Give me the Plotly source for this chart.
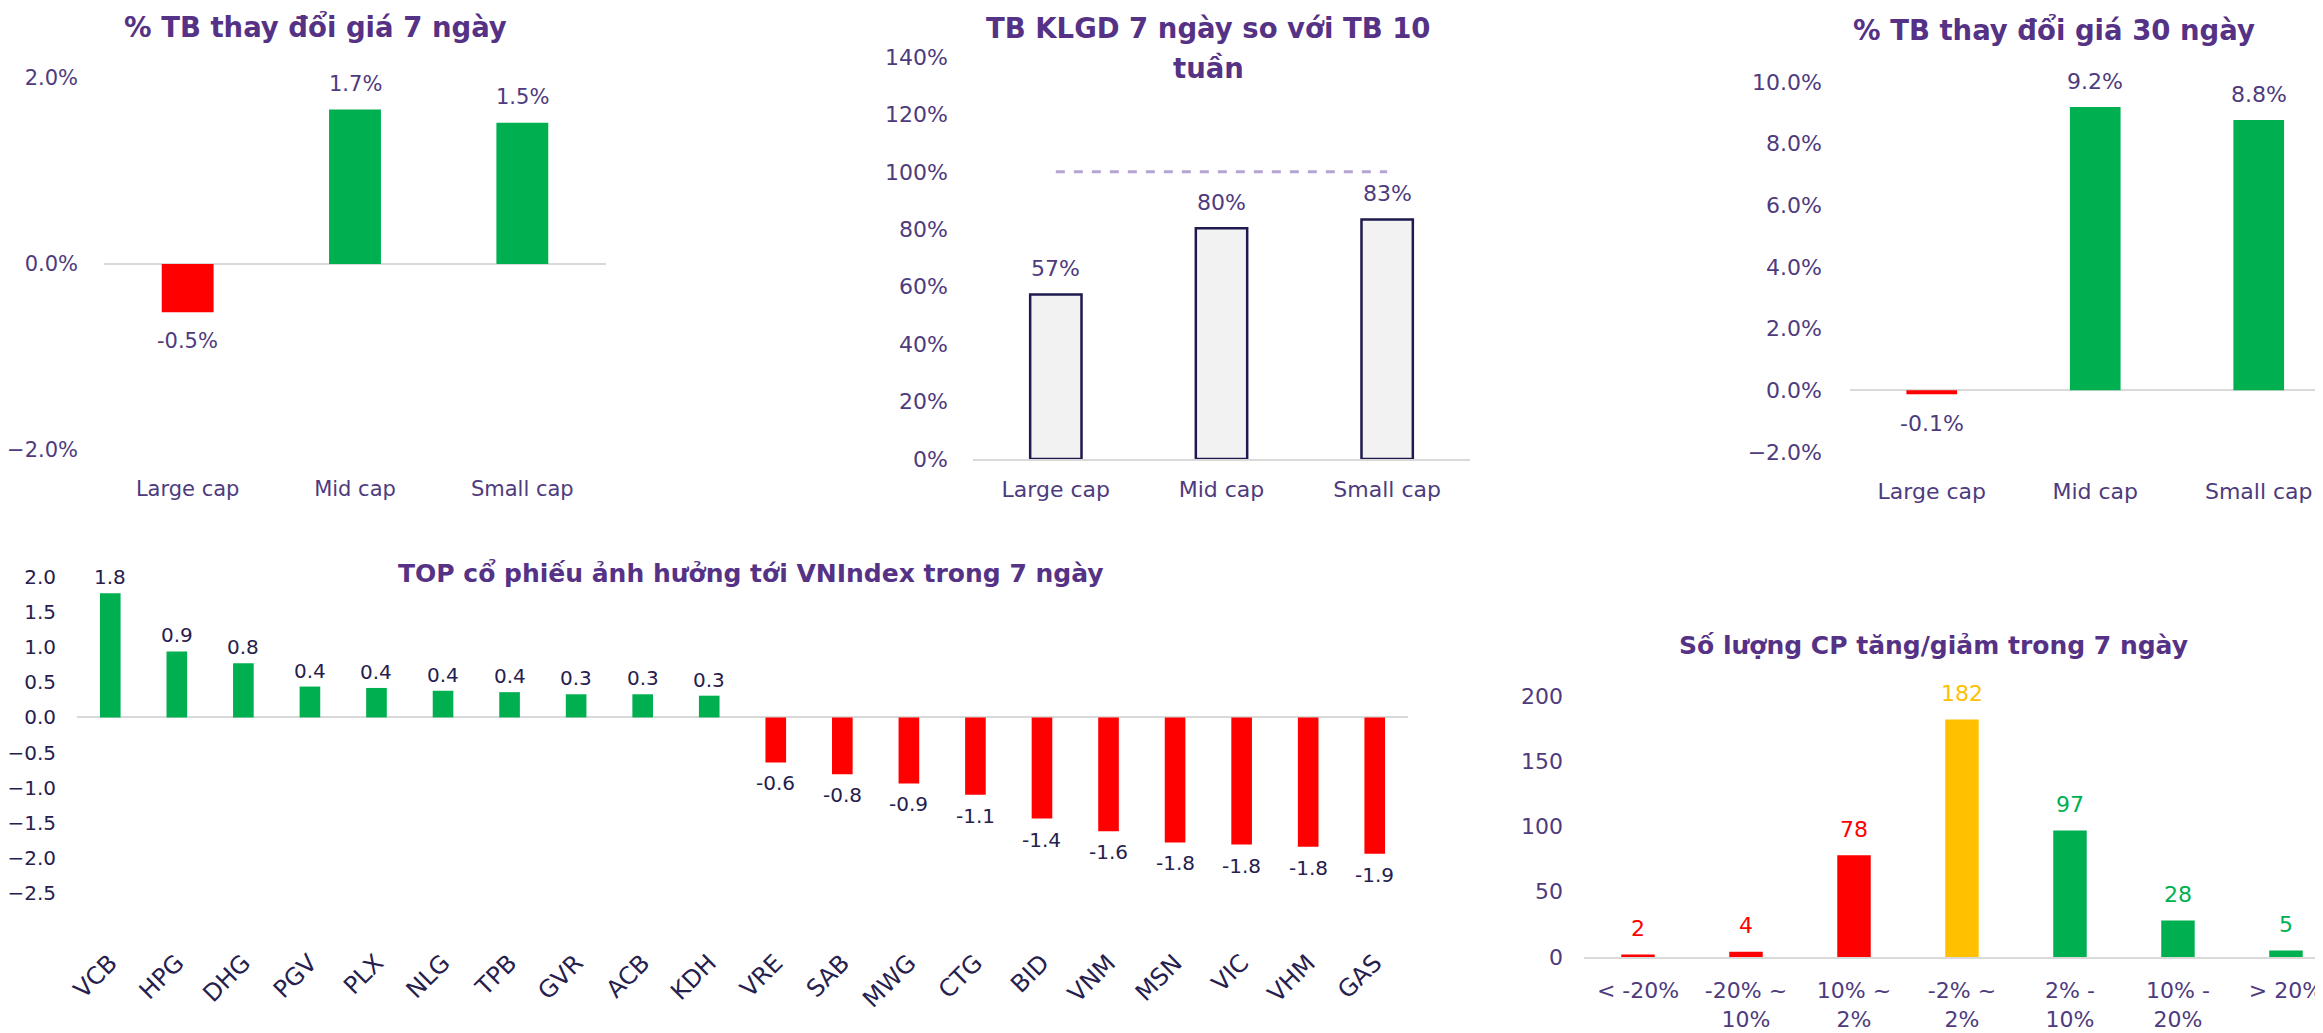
import plotly.graph_objects as go

# ---------------- data ----------------
caps = ["Large cap", "Mid cap", "Small cap"]
chg_7d = [-0.0052, 0.0166, 0.0152]          # % TB thay đổi giá 7 ngày
vol_ratio = [0.573, 0.804, 0.834]            # TB KLGD 7 ngày so với TB 10 tuần
ref_level = [1.0, 1.0, 1.0]                  # 100% reference
chg_30d = [-0.0013, 0.0919, 0.0877]          # % TB thay đổi giá 30 ngày

tickers = ["VCB", "HPG", "DHG", "PGV", "PLX", "NLG", "TPB", "GVR", "ACB", "KDH",
           "VRE", "SAB", "MWG", "CTG", "BID", "VNM", "MSN", "VIC", "VHM", "GAS"]
impact = [1.77, 0.94, 0.77, 0.44, 0.42, 0.38, 0.36, 0.33, 0.33, 0.31,
          -0.64, -0.81, -0.94, -1.10, -1.44, -1.62, -1.78, -1.81, -1.84, -1.94]

bins = ["< -20%", "-20% ~<br>10%", "10% ~<br>2%", "-2% ~<br>2%",
        "2% -<br>10%", "10% -<br>20%", "> 20%"]
counts = [2, 4, 78, 182, 97, 28, 5]

# ---------------- style ----------------
W, H = 2323, 1033
OFF = 8  # page body margin offset
FONT = "DejaVu Sans"
GREEN = "#00B050"
RED = "#FF0000"
YELLOW = "#FFC000"
PURPLE_T = "#553285"
PURPLE = "#4E3B7D"
NAVY = "#25204D"
AXIS_GRAY = "#D9D9D9"
bin_colors = [RED, RED, RED, YELLOW, GREEN, GREEN, GREEN]


def fx(px):
    return (px - OFF) / W


def fy(py):
    return 1 - (py - OFF) / H


def sign_colors(vals):
    return [GREEN if v >= 0 else RED for v in vals]


fig = go.Figure()

# Chart 1
fig.add_trace(go.Bar(x=caps, y=chg_7d, marker_color=sign_colors(chg_7d), width=0.31,
                     xaxis="x", yaxis="y", hoverinfo="skip"))
# Chart 2
fig.add_trace(go.Bar(x=caps, y=vol_ratio, marker=dict(color="#F2F2F2", line=dict(color="#1E1A4D", width=2.5)),
                     width=0.31, xaxis="x2", yaxis="y2", hoverinfo="skip"))
fig.add_trace(go.Scatter(x=caps, y=ref_level, mode="lines",
                         line=dict(color="#B4A5D5", width=3, dash="dash"),
                         xaxis="x2", yaxis="y2", hoverinfo="skip"))
# Chart 3
fig.add_trace(go.Bar(x=caps, y=chg_30d, marker_color=sign_colors(chg_30d), width=0.31,
                     xaxis="x3", yaxis="y3", hoverinfo="skip"))
# Chart 4
fig.add_trace(go.Bar(x=tickers, y=impact, marker_color=sign_colors(impact), width=0.31,
                     xaxis="x4", yaxis="y4", hoverinfo="skip"))
# Chart 5
fig.add_trace(go.Bar(x=bins, y=counts, marker_color=bin_colors, width=0.31,
                     xaxis="x5", yaxis="y5", hoverinfo="skip"))

base_x = dict(showgrid=False, zeroline=False, ticks="", type="category", automargin=False)
base_y = dict(showgrid=False, ticks="", automargin=False)

layout = dict(
    template="none",
    width=W, height=H, margin=dict(l=0, r=0, t=0, b=0, pad=0), autosize=False,
    paper_bgcolor="white", plot_bgcolor="white", showlegend=False,
    font=dict(family=FONT, color=PURPLE),
    # chart 1
    xaxis=dict(base_x, domain=[fx(104), fx(606)], anchor="y", range=[-0.5, 2.5],
               tickfont=dict(size=21, color=PURPLE), ticklabelstandoff=24),
    yaxis=dict(base_y, domain=[fy(450), fy(78)], anchor="x", range=[-0.02, 0.02], dtick=0.02,
               tickformat=".1%", zeroline=True, zerolinecolor=AXIS_GRAY, zerolinewidth=2,
               tickfont=dict(size=21, color=PURPLE), ticklabelstandoff=25),
    # chart 2
    xaxis2=dict(base_x, domain=[fx(973), fx(1470)], anchor="y2", range=[-0.5, 2.5],
                showline=True, linecolor=AXIS_GRAY, linewidth=2,
                tickfont=dict(size=22, color=PURPLE), ticklabelstandoff=10),
    yaxis2=dict(base_y, domain=[fy(459), fy(57)], anchor="x2", range=[0, 1.4], dtick=0.2,
                tickformat=".0%", zeroline=False, tickfont=dict(size=22, color=PURPLE),
                ticklabelstandoff=24),
    # chart 3
    xaxis3=dict(base_x, domain=[fx(1850), 1.0], anchor="y3", range=[-0.5, 2.442],
                tickfont=dict(size=22, color=PURPLE), ticklabelstandoff=24),
    yaxis3=dict(base_y, domain=[fy(452), fy(82)], anchor="x3", range=[-0.02, 0.10], dtick=0.02,
                tickformat=".1%", zeroline=True, zerolinecolor=AXIS_GRAY, zerolinewidth=2,
                tickfont=dict(size=22, color=PURPLE), ticklabelstandoff=27),
    # chart 4
    xaxis4=dict(base_x, domain=[fx(77), fx(1408)], anchor="y4", range=[-0.5, 19.5],
                tickangle=-45, tickfont=dict(size=24, color=NAVY), ticklabelstandoff=50),
    yaxis4=dict(base_y, domain=[fy(893), fy(577)], anchor="x4", range=[-2.5, 2.0], dtick=0.5,
                tickformat=".1f", zeroline=True, zerolinecolor=AXIS_GRAY, zerolinewidth=2,
                tickfont=dict(size=20, color=NAVY), ticklabelstandoff=20),
    # chart 5
    xaxis5=dict(base_x, domain=[fx(1584), 1.0], anchor="y5", range=[-0.5, 6.417],
                showline=True, linecolor=AXIS_GRAY, linewidth=2,
                tickfont=dict(size=22, color=PURPLE), ticklabelstandoff=13),
    yaxis5=dict(base_y, domain=[fy(957), fy(696)], anchor="x5", range=[0, 200], dtick=50,
                zeroline=False, tickfont=dict(size=22, color=PURPLE), ticklabelstandoff=20),
)
fig.update_layout(**layout)

annotations = []


def title(text, x, y, size):
    annotations.append(dict(text="<b>%s</b>" % text, x=fx(x), y=fy(y), xref="paper", yref="paper",
                            xanchor="center", yanchor="middle", showarrow=False,
                            font=dict(family=FONT, size=size, color=PURPLE_T)))


title("% TB thay đổi giá 7 ngày", 315, 27, 27.5)
title("TB KLGD 7 ngày so với TB 10", 1208, 28, 27.5)
title("tuần", 1208, 68, 27.5)
title("% TB thay đổi giá 30 ngày", 2054, 30, 27.5)
title("TOP cổ phiếu ảnh hưởng tới VNIndex trong 7 ngày", 751, 573, 25)
title("Số lượng CP tăng/giảm trong 7 ngày", 1933, 645, 25)


def value_labels(xs, ys, xref, yref, fmt, up, down, size, colors):
    for xv, yv, c in zip(xs, ys, colors):
        annotations.append(dict(x=xv, y=yv, xref=xref, yref=yref, text=fmt(yv), showarrow=False,
                                xanchor="center", yanchor="middle",
                                yshift=up if yv >= 0 else -down,
                                font=dict(family=FONT, size=size, color=c)))


value_labels(caps, chg_7d, "x", "y", lambda v: "%.1f%%" % (v * 100), 26, 29, 21, [PURPLE] * 3)
value_labels(caps, vol_ratio, "x2", "y2", lambda v: "%.0f%%" % (v * 100), 26, 26, 22, [PURPLE] * 3)
value_labels(caps, chg_30d, "x3", "y3", lambda v: "%.1f%%" % (v * 100), 25, 29, 22, [PURPLE] * 3)
value_labels(tickers, impact, "x4", "y4", lambda v: "%.1f" % v, 16, 21, 20, [NAVY] * len(impact))
value_labels(bins, counts, "x5", "y5", lambda v: "%d" % v, 26, 26, 22, bin_colors)

fig.update_layout(annotations=annotations)
fig.write_html("out.html")
